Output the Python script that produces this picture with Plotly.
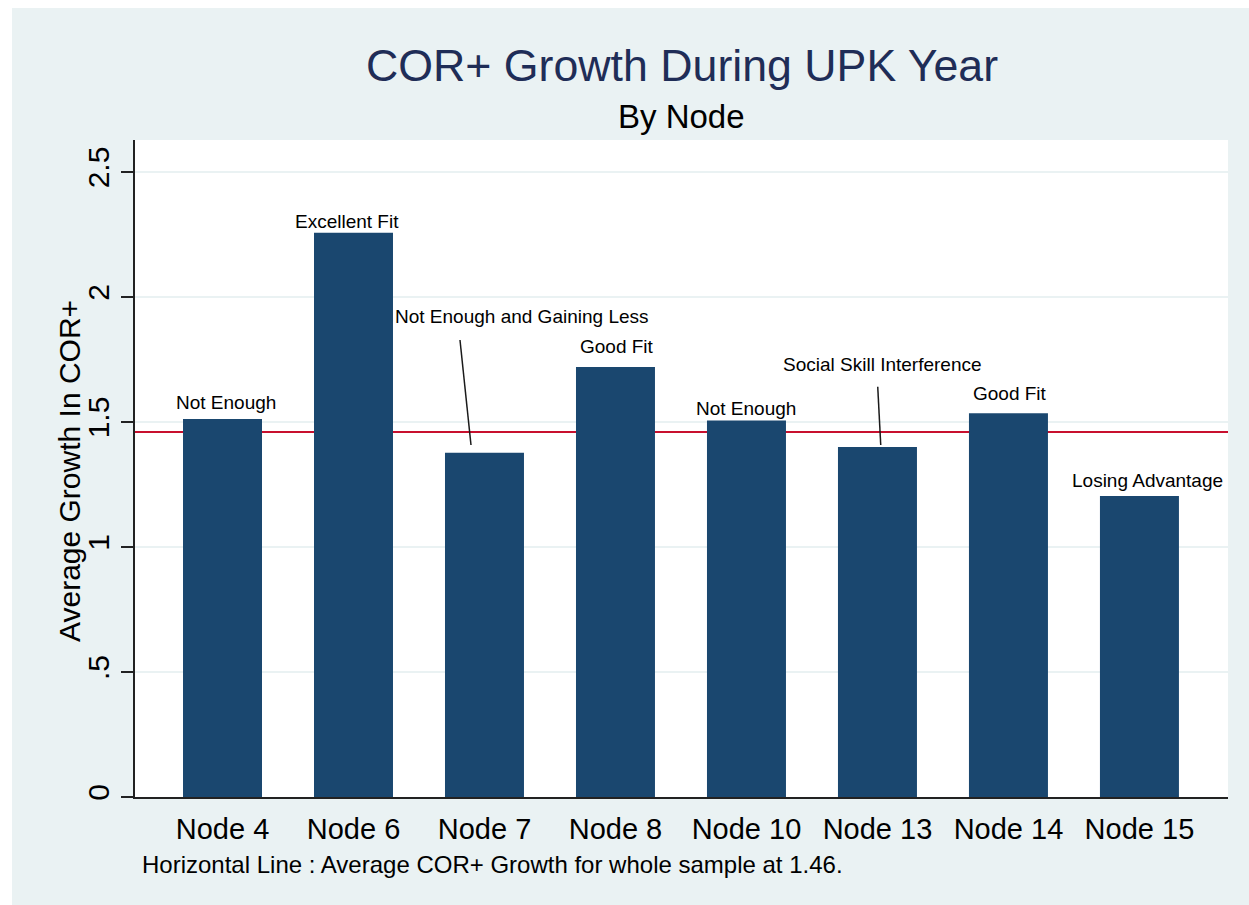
import plotly.graph_objects as go

# ---- data ----
nodes = ["Node 4", "Node 6", "Node 7", "Node 8", "Node 10", "Node 13", "Node 14", "Node 15"]
growth = [1.512, 2.257, 1.377, 1.72, 1.506, 1.40, 1.535, 1.204]
sample_avg = 1.46

labels = ["Not Enough", "Excellent Fit", "Not Enough and Gaining Less", "Good Fit",
          "Not Enough", "Social Skill Interference", "Good Fit", "Losing Advantage"]
label_x = [0.03, 0.95, 2.284, 3.01, 3.996, 5.038, 6.011, 7.063]
label_y = [1.578, 2.302, 1.924, 1.804, 1.556, 1.73, 1.616, 1.268]

pointer7_x = [1.813, 1.897]
pointer7_y = [1.828, 1.408]
pointer13_x = [5.002, 5.025]
pointer13_y = [1.641, 1.408]

ytick_vals = [0, 0.5, 1, 1.5, 2, 2.5]
ytick_text = ["0", ".5", "1", "1.5", "2", "2.5"]

FONT = "Liberation Sans, Arial, sans-serif"
BG = "#EAF2F3"
BAR = "#1a476f"

W, H = 1249, 905
ML, MR, MT, MB = 135, 21, 140, 108
PW, PH = W - ML - MR, H - MT - MB

fig = go.Figure()
fig.add_trace(go.Bar(x=nodes, y=growth, marker=dict(color=BAR, line=dict(width=0)),
                     width=0.603, showlegend=False, hoverinfo="x+y"))
for px, py_ in [(pointer7_x, pointer7_y), (pointer13_x, pointer13_y)]:
    fig.add_trace(go.Scatter(x=px, y=py_, mode="lines",
                             line=dict(color="#1a1a1a", width=1.5), showlegend=False,
                             hoverinfo="skip", xaxis="x2"))

annotations = []
for t, lx, ly in zip(labels, label_x, label_y):
    annotations.append(dict(x=lx, y=ly, xref="x2", yref="y", text=t, showarrow=False,
                            xanchor="center", yanchor="middle",
                            font=dict(family=FONT, size=19, color="black")))

def py(px_from_top):
    return (MT + PH - px_from_top) / PH

annotations += [
    dict(x=0.5, y=py(66), xref="paper", yref="paper", text="COR+ Growth During UPK Year",
         showarrow=False, xanchor="center", yanchor="middle",
         font=dict(family=FONT, size=44.7, color="#1f2d57")),
    dict(x=0.5, y=py(116.5), xref="paper", yref="paper", text="By Node",
         showarrow=False, xanchor="center", yanchor="middle",
         font=dict(family=FONT, size=33, color="black")),
    dict(x=5 / PW, y=py(864.5), xref="paper", yref="paper",
         text="Horizontal Line : Average COR+ Growth for whole sample at 1.46.",
         showarrow=False, xanchor="left", yanchor="middle",
         font=dict(family=FONT, size=24, color="black")),
    dict(x=-66 / PW, y=py(471), xref="paper", yref="paper", text="Average Growth In COR+",
         showarrow=False, xanchor="center", yanchor="middle", textangle=-90,
         font=dict(family=FONT, size=30, color="black")),
]

shapes = [
    dict(type="line", xref="paper", yref="y", x0=0, x1=1, y0=sample_avg, y1=sample_avg,
         line=dict(color="#C8102E", width=2), layer="between"),
    # white strips at the left and top of the image
    dict(type="rect", xref="paper", yref="paper", x0=-ML / PW, x1=(12 - ML) / PW,
         y0=-MB / PH, y1=(PH + MT) / PH, fillcolor="white", line=dict(width=0)),
    dict(type="rect", xref="paper", yref="paper", x0=-ML / PW, x1=(W - ML) / PW,
         y0=(PH + MT - 8) / PH, y1=(PH + MT) / PH, fillcolor="white", line=dict(width=0)),
]

fig.update_layout(
    width=W, height=H,
    margin=dict(l=ML, r=MR, t=MT, b=MB, pad=0),
    paper_bgcolor=BG, plot_bgcolor="white",
    font=dict(family=FONT, color="black"),
    hovermode=False,
    xaxis=dict(type="category", range=[-0.668, 7.676], showline=True, linecolor="#222222",
               linewidth=1.5, ticks="", showgrid=False, zeroline=False,
               tickfont=dict(family=FONT, size=29, color="black"), ticklabelstandoff=5),
    xaxis2=dict(overlaying="x", range=[-0.668, 7.676], visible=False),
    yaxis=dict(range=[0, 2.628], tickvals=ytick_vals, ticktext=ytick_text, tickangle=-90,
               showline=True, linecolor="#222222", linewidth=1.5, ticks="outside",
               ticklen=12, tickwidth=1.5, tickcolor="#222222", showgrid=True,
               gridcolor=BG, gridwidth=2, zeroline=False,
               tickfont=dict(family=FONT, size=30, color="black")),
    annotations=annotations, shapes=shapes,
)

fig.write_html("out.html", config={"displayModeBar": False},
               post_script="document.body.style.margin='0';document.body.style.overflow='hidden';")
